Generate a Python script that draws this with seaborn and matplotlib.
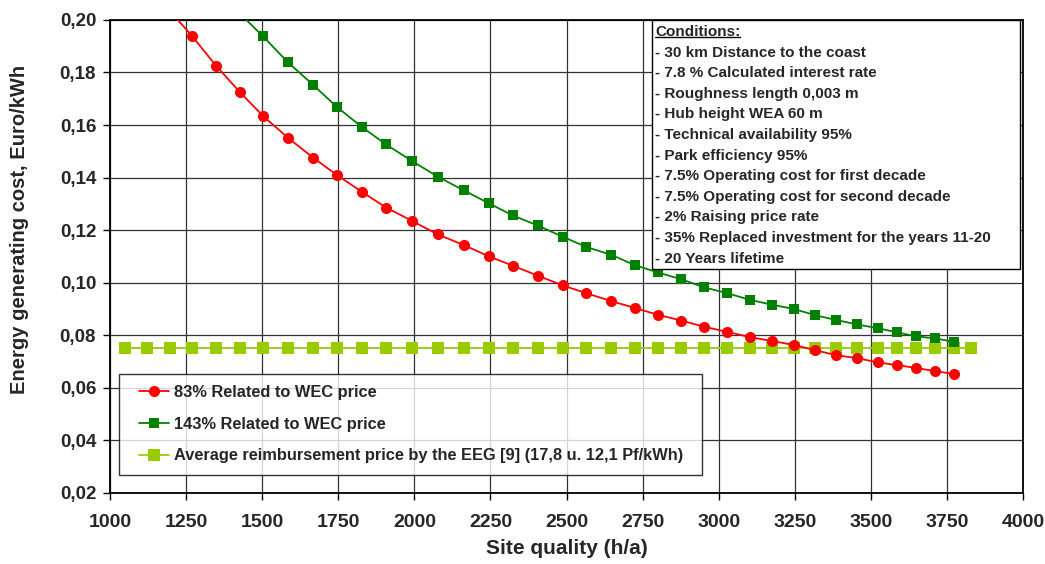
import matplotlib
matplotlib.use("Agg")
import matplotlib.pyplot as plt
import pandas as pd
import seaborn as sns
from matplotlib.legend_handler import HandlerLine2D
from matplotlib.lines import Line2D
from matplotlib.patches import Rectangle
from matplotlib.ticker import FuncFormatter, MultipleLocator

# site quality (h/a) of the calculated points, shared by all series
site_quality = [1049, 1121, 1196, 1270, 1348, 1426, 1503, 1585, 1667, 1745,
                1827, 1907, 1991, 2076, 2163, 2245, 2323, 2405, 2487, 2565,
                2647, 2724, 2800, 2877, 2953, 3028, 3102, 3176, 3247, 3318,
                3386, 3455, 3522, 3587, 3647, 3712, 3772, 3829]

# 83% related to WEC price (starts at 1196 h/a)
cost_83 = [0.2035, 0.1938, 0.1826, 0.1726, 0.1634, 0.1551, 0.1476, 0.1410,
           0.1346, 0.1286, 0.1236, 0.1184, 0.1143, 0.1100, 0.1065, 0.1027,
           0.0990, 0.0960, 0.0930, 0.0904, 0.0878, 0.0856, 0.0832, 0.0813,
           0.0793, 0.0778, 0.0763, 0.0743, 0.0724, 0.0713, 0.0697, 0.0686,
           0.0676, 0.0663, 0.0653]

# 143% related to WEC price (starts at 1426 h/a)
cost_143 = [0.2025, 0.1937, 0.1838, 0.1753, 0.1669, 0.1593, 0.1526, 0.1464,
            0.1404, 0.1351, 0.1302, 0.1256, 0.1218, 0.1175, 0.1136, 0.1106,
            0.1067, 0.1039, 0.1013, 0.0982, 0.0960, 0.0935, 0.0916, 0.0900,
            0.0876, 0.0858, 0.0841, 0.0827, 0.0811, 0.0796, 0.0788, 0.0775]

# average EEG reimbursement price
eeg_price = [0.075, 0.075, 0.075, 0.075, 0.075, 0.075, 0.075, 0.075, 0.075, 0.075,
             0.075, 0.075, 0.075, 0.075, 0.075, 0.075, 0.075, 0.075, 0.075, 0.075,
             0.075, 0.075, 0.075, 0.075, 0.075, 0.075, 0.075, 0.075, 0.075, 0.075,
             0.075, 0.075, 0.075, 0.075, 0.075, 0.075, 0.075, 0.075]

labels = ["83% Related to WEC price",
          "143% Related to WEC price",
          "Average reimbursement price by the EEG [9] (17,8 u. 12,1 Pf/kWh)"]

conditions = ["- 30 km Distance to the coast",
              "- 7.8 % Calculated interest rate",
              "- Roughness length 0,003 m",
              "- Hub height WEA 60 m",
              "- Technical availability 95%",
              "- Park efficiency 95%",
              "- 7.5% Operating cost for first decade",
              "- 7.5% Operating cost for second decade",
              "- 2% Raising price rate",
              "- 35% Replaced investment for the years 11-20",
              "- 20 Years lifetime"]

sns.set_theme(style="white")
plt.rcParams["font.family"] = ["Liberation Sans", "DejaVu Sans"]
plt.rcParams["font.weight"] = "bold"

df_83 = pd.DataFrame({"x": site_quality[2:37], "y": cost_83})
df_143 = pd.DataFrame({"x": site_quality[5:37], "y": cost_143})
df_eeg = pd.DataFrame({"x": site_quality, "y": eeg_price})

fig = plt.figure(figsize=(10.45, 5.64), dpi=100)
ax = fig.add_axes([0.1053, 0.126, 0.8737, 0.8387])

sns.lineplot(data=df_83, x="x", y="y", ax=ax, color="#ff0000", lw=1.3,
             marker="o", markersize=8, markeredgewidth=0, label=labels[0], zorder=4)
sns.lineplot(data=df_143, x="x", y="y", ax=ax, color="#008000", lw=1.3,
             marker="s", markersize=7, markeredgewidth=0, label=labels[1], zorder=4)
sns.lineplot(data=df_eeg, x="x", y="y", ax=ax, color="#99cc00", lw=1.3,
             marker="s", markersize=8, markeredgewidth=0, label=labels[2], zorder=3)

ax.set_xlim(1000, 4000)
ax.set_ylim(0.02, 0.20)
ax.xaxis.set_major_locator(MultipleLocator(250))
ax.yaxis.set_major_locator(MultipleLocator(0.02))
ax.yaxis.set_major_formatter(FuncFormatter(lambda v, p: f"{v:.2f}".replace(".", ",")))
ax.grid(True, color="#333333", lw=0.9)
ax.set_axisbelow(True)
for s in ax.spines.values():
    s.set_color("black")
    s.set_linewidth(1.3)
ax.tick_params(axis="both", which="major", direction="out", length=5, width=1,
               color="black", bottom=True, left=True)
ax.tick_params(axis="y", labelsize=13.5, pad=5)
ax.tick_params(axis="x", labelsize=14, pad=10)

ax.set_xlabel("Site quality (h/a)", fontsize=15, fontweight="bold", labelpad=6)
ax.set_ylabel("Energy generating cost, Euro/kWh", fontsize=14.5, fontweight="bold")
ax.yaxis.set_label_coords(-0.089, 0.558)

leg = ax.legend(loc="lower left", bbox_to_anchor=(0.0099, 0.038, 0.6385, 0.21),
                mode="expand", fontsize=11.8, frameon=True, fancybox=False,
                edgecolor="black", handlelength=2.35, handletextpad=0.3,
                labelspacing=1.02, borderpad=0.7, borderaxespad=0,
                handler_map={Line2D: HandlerLine2D(xpad=0.5)})
leg.get_frame().set_linewidth(1.0)
leg.set_zorder(10)

# conditions box
box = Rectangle((0.5937, 0.4736), 0.403, 0.5264, transform=ax.transAxes,
                facecolor="white", edgecolor="black", lw=1.0, zorder=8)
ax.add_patch(box)
x0 = 655 / 1045
y_top = 1 - 32 / 564
step = 20.6 / 564
title = fig.text(x0, y_top, "Conditions:", fontsize=11, fontweight="bold",
                 va="center", ha="left", zorder=9)
for i, line in enumerate(conditions):
    fig.text(x0, y_top - (i + 1) * step, line, fontsize=11, fontweight="bold",
             va="center", ha="left", zorder=9)

fig.canvas.draw()
bb = title.get_window_extent().transformed(fig.transFigure.inverted())
fig.add_artist(Line2D([bb.x0, bb.x1], [bb.y0 + 0.003, bb.y0 + 0.003],
                      transform=fig.transFigure, color="black", lw=1.0, zorder=9))

fig.savefig("out.png", dpi=100)
